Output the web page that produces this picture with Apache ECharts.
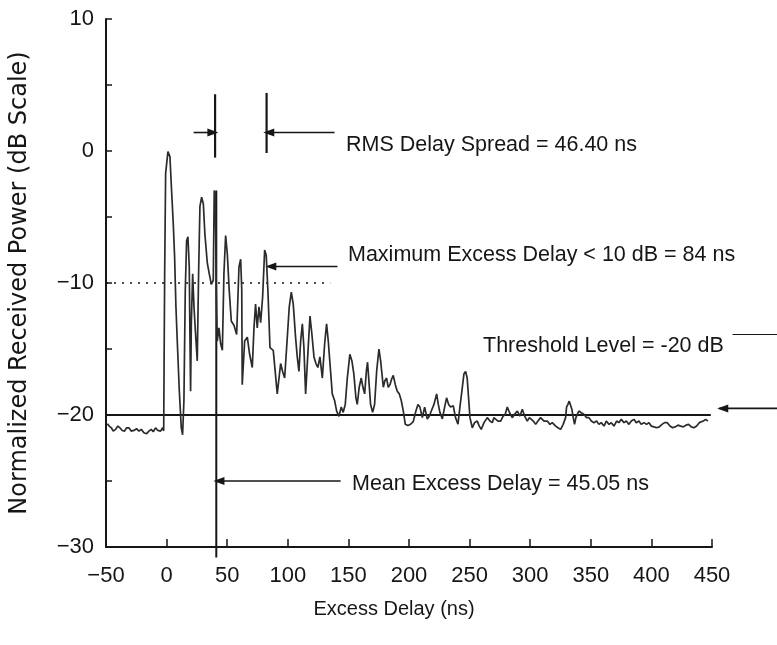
<!DOCTYPE html>
<html>
<head>
<meta charset="utf-8">
<script src="https://cdn.jsdelivr.net/npm/echarts@6/dist/echarts.min.js"></script>
<style>
  html, body { margin: 0; padding: 0; background: #fff; }
  #chart { width: 777px; height: 645px; }
</style>
</head>
<body>
<div id="chart"></div>
<script>
// power delay profile (ns, dB)
var delayNs = [
  -48.9, -47.3, -45.6, -44.0, -42.1, -40.2, -38.5, -36.6, -34.7, -33.0,
  -31.1, -29.2, -27.0, -24.8, -22.8, -20.9, -18.7, -16.5, -14.6, -12.7,
  -11.0, -9.1, -7.2, -5.0, -3.3, -2.4,
  -2.0, -1.6, -0.8, 1.1, 2.75, 4.1, 5.5, 6.6, 7.7, 8.8, 10.5, 12.1, 13.2,
  14.3, 15.4, 16.5, 17.6, 18.7, 19.3, 19.8, 20.4, 21.5, 22.6, 23.6, 25.3,
  26.4, 27.5, 28.9, 30.3, 31.6, 33.6, 35.2, 36.9, 38.5, 39.3, 40.2, 41.0,
  41.8, 43.2, 44.6, 46.0, 47.3, 48.7, 50.1, 51.7, 53.4, 55.6, 57.8, 59.7,
  61.1, 62.0, 62.4, 64.4, 66.6, 68.5, 70.7, 72.1, 73.4, 74.8, 76.2, 77.6,
  79.2, 80.9, 82.2, 83.6, 85.3, 88.0, 91.3, 94.1, 95.7, 97.4, 99.6, 101.2,
  102.9, 104.5, 106.4, 107.8, 109.2, 110.6, 112.0, 113.3, 114.7, 116.1,
  118.3, 119.9, 121.6, 123.2, 124.8, 126.5, 128.5, 130.4, 132.0, 133.4,
  134.8, 136.7, 138.6, 140.3, 142.2, 144.1, 145.7, 147.4, 149.1, 151.2,
  152.9, 154.5, 156.2, 157.3, 158.9, 160.6, 162.0, 163.4, 164.8, 165.8,
  166.9, 168.3, 170.0, 171.6, 173.3, 175.2, 176.6, 178.8, 180.1, 181.5,
  182.9, 184.3, 185.6, 187.0, 188.7, 190.3, 192.0, 193.6, 195.3, 196.9,
  199.1, 201.3, 203.5, 205.7, 207.4, 209.0, 211.0, 212.9, 215.1, 216.7,
  218.4, 220.6, 222.8, 224.2, 225.5, 227.5, 229.4, 231.0, 232.7, 234.3,
  236.5, 238.4, 240.4, 242.0, 244.0, 245.3, 246.7, 248.0, 250.3, 252.2,
  254.1, 256.3, 258.0, 259.6, 261.9, 264.6, 266.8, 268.7, 270.0, 271.4,
  273.4, 275.6, 277.7, 279.4, 281.1, 283.0, 285.2, 287.1, 289.4, 291.5,
  293.5, 295.4, 297.6, 299.3, 300.9, 302.6, 304.5, 306.4, 308.6, 311.4,
  314.1, 316.3, 318.2, 321.0, 322.9, 325.1, 327.2, 329.2, 330.0, 331.1,
  332.2, 333.3, 334.4, 335.5, 336.6, 337.7, 338.8, 340.2, 342.1, 344.3,
  346.5, 348.5, 350.4, 352.6, 354.8, 356.7, 358.6, 360.9, 362.8, 365.0,
  366.9, 369.1, 371.3, 373.2, 375.1, 377.4, 379.3, 381.5, 383.4, 385.6,
  387.5, 389.7, 391.6, 393.8, 396.0, 398.0, 399.9, 402.1, 404.3, 406.5,
  408.7, 410.9, 413.1, 415.3, 417.5, 419.7, 421.9, 424.1, 426.3, 428.5,
  430.7, 432.9, 435.1, 437.3, 439.5, 441.1, 442.8, 444.7, 446.6
];
var powerDb = [
  -20.66, -20.84, -20.97, -21.22, -21.09, -20.84, -20.97, -21.17, -21.22, -20.97,
  -20.97, -21.22, -21.17, -21.04, -21.22, -21.09, -21.35, -21.42, -21.22, -21.09,
  -21.27, -20.97, -21.17, -21.22, -20.97, -21.2,
  -15.0, -9.3, -1.7, -0.05, -0.43, -2.97, -5.5, -8.0, -11.8, -14.4, -18.2, -20.97, -21.5,
  -18.9, -10.6, -6.8, -6.5, -8.8, -14.4, -18.2, -13.1, -9.3, -11.8, -13.4, -15.9,
  -9.3, -4.2, -3.5, -4.0, -6.3, -8.5, -9.3, -10.1, -9.8, -3.0, -3.2, -10.6,
  -14.4, -13.4, -14.6, -15.1, -9.3, -6.4, -7.8, -10.6, -12.9, -13.2, -13.9, -8.8,
  -8.2, -10.5, -17.7, -14.4, -14.1, -15.4, -16.4, -13.4, -11.6, -13.4, -11.8, -13.0,
  -11.1, -7.5, -7.9, -10.6, -14.9, -15.1, -18.4, -16.1, -16.7, -17.2, -14.1, -11.8,
  -10.7, -11.6, -14.1, -15.6, -16.7, -14.4, -13.1, -14.9, -18.4, -16.1,
  -12.5, -13.9, -15.6, -16.1, -16.4, -15.6, -17.2, -14.6, -13.1, -14.4,
  -16.1, -18.4, -18.9, -19.7, -20.1, -19.4, -19.8, -19.2, -17.2, -15.4,
  -15.9, -16.9, -18.7, -19.2, -17.9, -17.2, -17.9, -18.4, -16.7, -16.0,
  -17.4, -19.2, -19.8, -19.2, -16.7, -15.0, -15.9, -17.9, -17.4, -17.2,
  -17.9, -17.7, -17.3, -17.0, -17.7, -18.2, -18.4, -18.9, -19.7, -20.7,
  -20.8, -20.7, -20.5, -19.7, -19.2, -19.4, -20.2, -19.4, -20.3, -20.1,
  -19.7, -19.2, -18.4, -19.2, -19.8, -20.3, -19.4, -18.7, -19.2, -19.4,
  -19.3, -20.2, -20.7, -19.4, -17.9, -16.9, -16.7, -17.2, -20.2, -20.97,
  -20.58, -20.46, -20.84, -21.09, -20.58, -20.2, -20.46, -20.58, -20.2, -20.08,
  -20.46, -20.46, -20.08, -19.95, -19.4, -19.83, -20.2, -19.95, -19.7, -20.08,
  -19.57, -20.08, -20.46, -20.2, -20.08, -20.46, -20.71, -20.46, -20.2, -20.46,
  -20.46, -20.71, -20.58, -20.84, -20.97, -21.09, -20.71, -20.2, -19.4, -19.2,
  -18.95, -19.07, -19.57, -20.2, -20.71, -20.2, -19.95, -19.7, -19.83, -19.95,
  -20.2, -20.2, -20.46, -20.58, -20.46, -20.71, -20.58, -20.84, -20.46, -20.71,
  -20.58, -20.84, -20.46, -20.58, -20.33, -20.58, -20.46, -20.71, -20.46, -20.33,
  -20.58, -20.46, -20.71, -20.58, -20.71, -20.58, -20.84, -20.9, -20.97, -20.9,
  -20.71, -20.58, -20.58, -20.84, -20.97, -20.9, -20.77, -20.84, -20.9, -20.77,
  -20.71, -20.9, -20.97, -20.84, -20.58, -20.71, -20.46, -20.33, -20.46
];

// axes
var xMin = -50, xMax = 450, xStep = 50;
var yMin = -30, yMax = 10, yStep = 5;

// annotation positions, in axis units
var thresholdDb = -20;
var thresholdSpan = [-50, 449];
var tenDbBelow = -10;
var tenDbSpan = [-50, 135];
var meanDelayMark = 41;
var meanArrowDb = -25;
var rmsMarks = [40, 82.5];
var rmsArrowDb = 1.4;
var maxDelayMark = 86;
var maxArrowDb = -8.75;
// pointer and rule drawn to the right of the plot, beside the threshold label
var thresholdPointer = [[456, -19.5], [505, -19.5]];
var thresholdRule = [[467, -13.9], [505, -13.9]];

var profile = delayNs.map(function (d, i) { return [d, powerDb[i]]; });

var ink = '#161616';

function segment(points, opts) {
  opts = opts || {};
  return {
    type: 'line',
    silent: true,
    clip: false,
    symbol: 'none',
    showSymbol: true,
    animation: false,
    z: 3,
    lineStyle: { color: ink, width: opts.width || 1.6, type: opts.type || 'solid' },
    itemStyle: { color: ink },
    data: points
  };
}

// arrow with the head on the first point; rot 90 = head points left, -90 = right
function arrow(from, to, rot) {
  return segment([
    { value: from, symbol: 'triangle', symbolSize: [8, 11], symbolRotate: rot },
    { value: to, symbol: 'none' }
  ]);
}

var plain = "'Liberation Sans', Arial, sans-serif";

function minus(v) { return String(v).replace('-', '\u2212'); }

var chart = echarts.init(document.getElementById('chart'), null, { renderer: 'canvas' });

var option = {
  animation: false,
  backgroundColor: '#fff',
  grid: { left: 104, right: 65, top: 19, bottom: 98, containLabel: false },
  xAxis: {
    type: 'value',
    min: xMin, max: xMax, interval: xStep,
    name: 'Excess Delay (ns)',
    nameLocation: 'middle',
    nameGap: 52,
    nameTextStyle: { fontFamily: plain, fontSize: 20, color: ink, padding: [0, 30, 0, 0] },
    axisLine: { onZero: false, lineStyle: { color: ink, width: 2 } },
    axisTick: { inside: true, length: 8, lineStyle: { color: ink, width: 1.5 } },
    axisLabel: { fontFamily: plain, fontSize: 22, color: ink, margin: 18, formatter: minus },
    splitLine: { show: false }
  },
  yAxis: {
    type: 'value',
    min: yMin, max: yMax, interval: yStep,
    name: 'Normalized Received Power (dB Scale)',
    nameLocation: 'middle',
    nameGap: 74,
    nameTextStyle: { fontFamily: "'DejaVu Sans', sans-serif", fontSize: 24, color: ink },
    axisLine: { onZero: false, lineStyle: { color: ink, width: 2 } },
    axisTick: { inside: true, length: 6, lineStyle: { color: ink, width: 1.5 } },
    axisLabel: {
      fontFamily: plain, fontSize: 22, color: ink, margin: 12,
      formatter: function (v) { return v % 10 === 0 ? minus(v) : ''; }
    },
    splitLine: { show: false }
  },
  series: [
    {
      type: 'line',
      data: profile,
      symbol: 'none',
      silent: true,
      z: 4,
      lineStyle: { color: '#2b2b2b', width: 1.7 }
    },
    segment([[thresholdSpan[0], thresholdDb], [thresholdSpan[1], thresholdDb]], { width: 2.2 }),
    segment([[tenDbSpan[0], tenDbBelow], [tenDbSpan[1], tenDbBelow]], { width: 1.4, type: [2, 6] }),
    segment([[meanDelayMark, -30.8], [meanDelayMark, -3]], { width: 2 }),
    segment([[rmsMarks[0], 4.3], [rmsMarks[0], -0.5]], { width: 2.2 }),
    segment([[rmsMarks[1], 4.4], [rmsMarks[1], -0.15]], { width: 2.2 }),
    arrow([rmsMarks[0] - 1.8, rmsArrowDb], [22.3, rmsArrowDb], -90),
    arrow([rmsMarks[1] + 1.8, rmsArrowDb], [138.6, rmsArrowDb], 90),
    arrow([maxDelayMark, maxArrowDb], [141, maxArrowDb], 90),
    arrow([meanDelayMark + 2.2, meanArrowDb], [143.6, meanArrowDb], 90)
  ]
};

chart.setOption(option);

// the pieces right of the plot area go in as graphics, placed through the axes
function px(p) { return chart.convertToPixel({ gridIndex: 0 }, p); }
var a0 = px(thresholdPointer[0]), a1 = px(thresholdPointer[1]);
var r0 = px(thresholdRule[0]), r1 = px(thresholdRule[1]);
var textFont = '21.5px ' + plain;

chart.setOption({
  graphic: [
    { type: 'line', silent: true, shape: { x1: a0[0], y1: a0[1], x2: a1[0], y2: a1[1] }, style: { stroke: ink, lineWidth: 1.6 } },
    { type: 'polygon', silent: true, shape: { points: [[a0[0] - 2, a0[1]], [a0[0] + 9, a0[1] - 4], [a0[0] + 9, a0[1] + 4]] }, style: { fill: ink } },
    { type: 'line', silent: true, shape: { x1: r0[0], y1: r0[1], x2: r1[0], y2: r1[1] }, style: { stroke: ink, lineWidth: 1.2 } },
    { type: 'text', left: 346, top: 134, style: { text: 'RMS Delay Spread = 46.40 ns', font: textFont, fill: ink } },
    { type: 'text', left: 348, top: 244, style: { text: 'Maximum Excess Delay < 10 dB = 84 ns', font: textFont, fill: ink } },
    { type: 'text', left: 483, top: 335, style: { text: 'Threshold Level = -20 dB', font: textFont, fill: ink } },
    { type: 'text', left: 352, top: 473, style: { text: 'Mean Excess Delay = 45.05 ns', font: textFont, fill: ink } }
  ]
});
</script>
</body>
</html>
